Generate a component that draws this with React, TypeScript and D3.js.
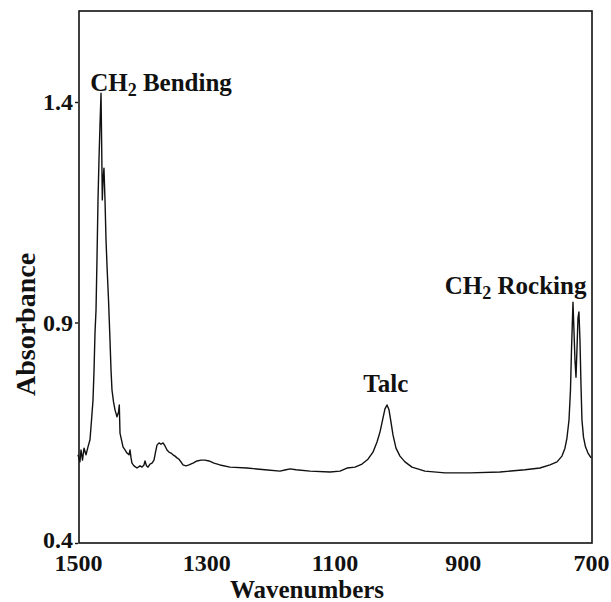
import React, { useEffect, useRef } from "react";
import * as d3 from "d3";

// spectrum (cm-1 vs absorbance)
const wavenumbers = [
  1500, 1497, 1495.3, 1493, 1490.6, 1487.5, 1484.4, 1481.3, 1478.9, 1476.6, 1475, 1473.5,
  1471.9, 1470.4, 1468.8, 1467.3, 1465.7, 1464.1, 1463, 1462.1, 1461, 1459.5, 1457.9, 1456.3,
  1454.8, 1452.4, 1450.1, 1448.5, 1447, 1444.6, 1442.3, 1439.2, 1436.8, 1435.6, 1434.5, 1432.2,
  1429.8, 1426.7, 1423.6, 1420.5, 1418.9, 1417.3, 1415.8, 1412.7, 1408, 1403.3, 1400.2, 1397.1,
  1395.5, 1393.2, 1390.8, 1387.7, 1384.6, 1381.5, 1379.1, 1376.8, 1373.7, 1370.6, 1367.4, 1364.3,
  1361.2, 1358.1, 1355, 1351.8, 1348.7, 1345.6, 1342.5, 1339.4, 1336.3, 1331.6, 1326.9, 1320.7,
  1314.4, 1308.2, 1301.9, 1295.7, 1287.9, 1278.6, 1263, 1236.5, 1208.4, 1185, 1175.6, 1169.4,
  1160, 1138.2, 1107, 1091.4, 1080.5, 1068, 1057.1, 1047.8, 1040, 1033.7, 1029, 1024.4,
  1021.3, 1018.1, 1015, 1011.9, 1008.8, 1004.1, 997.9, 990.1, 979.2, 958.9, 927.7, 888.7,
  841.9, 802.9, 779.6, 764, 753, 745.3, 740.6, 737.5, 734.3, 732, 730.4, 728.1,
  726.6, 725, 723.4, 721.9, 720.3, 718.8, 717.2, 715.6, 714.1, 711.7, 708.6, 704.7,
  701.6, 700,
];
const absorbance = [
  0.600, 0.584, 0.611, 0.588, 0.615, 0.600, 0.618, 0.634, 0.679, 0.724, 0.792, 0.876,
  0.928, 1.042, 1.178, 1.268, 1.348, 1.420, 1.291, 1.178, 1.223, 1.250, 1.178, 1.087,
  1.030, 0.951, 0.860, 0.792, 0.747, 0.720, 0.702, 0.686, 0.697, 0.713, 0.649, 0.634,
  0.618, 0.611, 0.604, 0.600, 0.611, 0.593, 0.581, 0.575, 0.570, 0.575, 0.572, 0.577,
  0.586, 0.575, 0.572, 0.579, 0.581, 0.588, 0.606, 0.622, 0.627, 0.624, 0.627, 0.620,
  0.611, 0.606, 0.604, 0.600, 0.597, 0.593, 0.590, 0.584, 0.577, 0.575, 0.577, 0.581,
  0.586, 0.588, 0.588, 0.586, 0.581, 0.577, 0.572, 0.570, 0.566, 0.563, 0.566, 0.568,
  0.566, 0.563, 0.561, 0.563, 0.570, 0.572, 0.579, 0.590, 0.606, 0.629, 0.652, 0.683,
  0.704, 0.713, 0.702, 0.674, 0.645, 0.615, 0.597, 0.584, 0.572, 0.563, 0.559, 0.559,
  0.561, 0.566, 0.570, 0.577, 0.584, 0.597, 0.615, 0.638, 0.679, 0.747, 0.838, 0.946,
  0.883, 0.815, 0.776, 0.838, 0.910, 0.924, 0.860, 0.758, 0.679, 0.640, 0.618, 0.604,
  0.597, 0.593,
];

const xTicks = [1500, 1300, 1100, 900, 700];
const yTicks = [0.4, 0.9, 1.4];

// band labels, placed in data units
const labels = [
  { wn: 1481, a: 1.425, main: "CH", sub: "2", rest: " Bending", anchor: "start" },
  { wn: 1020, a: 0.742, main: "Talc", sub: "", rest: "", anchor: "middle" },
  { wn: 928, a: 0.965, main: "CH", sub: "2", rest: " Rocking", anchor: "start" },
];

const FONT = "'Liberation Serif', 'Times New Roman', serif";

export default function App() {
  const svgRef = useRef<SVGSVGElement>(null);

  useEffect(() => {
    const width = 611;
    const height = 602;
    const margin = { top: 11, left: 78, right: 20, bottom: 59 };

    const svg = d3.select(svgRef.current);
    svg.selectAll("*").remove();
    svg.attr("width", width).attr("height", height);

    const x = d3
      .scaleLinear()
      .domain([1500, 700])
      .range([margin.left, width - margin.right]);
    const y = d3
      .scaleLinear()
      .domain([0.4, 1.4])
      .range([height - margin.bottom, 102]);

    const x0 = x(1500);
    const x1 = x(700);
    const yb = y(0.4);
    const yt = margin.top;

    // frame
    svg
      .append("rect")
      .attr("x", x0 + 1)
      .attr("y", yt)
      .attr("width", x1 - x0)
      .attr("height", yb - yt)
      .attr("fill", "none")
      .attr("stroke", "#111")
      .attr("stroke-width", 1.6);

    // y axis
    const yAxis = svg
      .append("g")
      .attr("transform", `translate(${x0},0)`)
      .call(d3.axisLeft(y).tickValues(yTicks).tickSize(3).tickSizeOuter(0).tickFormat(d3.format(".1f")));
    yAxis.select(".domain").remove();
    yAxis.selectAll("line").attr("stroke", "#111").attr("stroke-width", 1.4);
    yAxis
      .selectAll("text")
      .attr("x", -5)
      .attr("dy", (d) => (d === 0.4 ? "0.2em" : "0.32em"))
      .attr("fill", "#111")
      .style("font-family", FONT)
      .style("font-weight", "bold")
      .style("font-size", "24px");

    // x axis
    const xAxis = svg
      .append("g")
      .attr("transform", `translate(0,${yb})`)
      .call(d3.axisBottom(x).tickValues(xTicks).tickSize(0).tickFormat(d3.format("d")));
    xAxis.select(".domain").remove();
    xAxis
      .selectAll("text")
      .attr("y", 28)
      .attr("dy", 0)
      .attr("fill", "#111")
      .style("font-family", FONT)
      .style("font-weight", "bold")
      .style("font-size", "24px");

    svg
      .append("text")
      .attr("x", 307)
      .attr("y", 598)
      .attr("text-anchor", "middle")
      .style("font-family", FONT)
      .style("font-weight", "bold")
      .style("font-size", "25px")
      .attr("fill", "#111")
      .text("Wavenumbers");

    svg
      .append("text")
      .attr("transform", `translate(35,${y(0.9) + 2}) rotate(-90)`)
      .attr("text-anchor", "middle")
      .style("font-family", FONT)
      .style("font-weight", "bold")
      .style("font-size", "28px")
      .attr("fill", "#111")
      .text("Absorbance");

    // spectrum
    const points = wavenumbers.map((w, i) => [w, absorbance[i]] as [number, number]);
    const line = d3
      .line<[number, number]>()
      .x((d) => x(d[0]))
      .y((d) => y(d[1]));
    svg
      .append("path")
      .datum(points)
      .attr("d", line)
      .attr("fill", "none")
      .attr("stroke", "#111")
      .attr("stroke-width", 1.4)
      .attr("stroke-linejoin", "round");

    // band labels
    labels.forEach((l) => {
      const t = svg
        .append("text")
        .attr("x", x(l.wn))
        .attr("y", y(l.a))
        .attr("text-anchor", l.anchor)
        .style("font-family", FONT)
        .style("font-weight", "bold")
        .style("font-size", "25px")
        .attr("fill", "#111");
      t.append("tspan").text(l.main);
      if (l.sub) {
        t.append("tspan").attr("dy", 5).style("font-size", "18px").text(l.sub);
        t.append("tspan").attr("dy", -5).text(l.rest);
      }
    });
  }, []);

  return (
    <div style={{ position: "absolute", left: 0, top: 0 }}>
      <svg ref={svgRef} style={{ display: "block", background: "#fff" }}></svg>
    </div>
  );
}
